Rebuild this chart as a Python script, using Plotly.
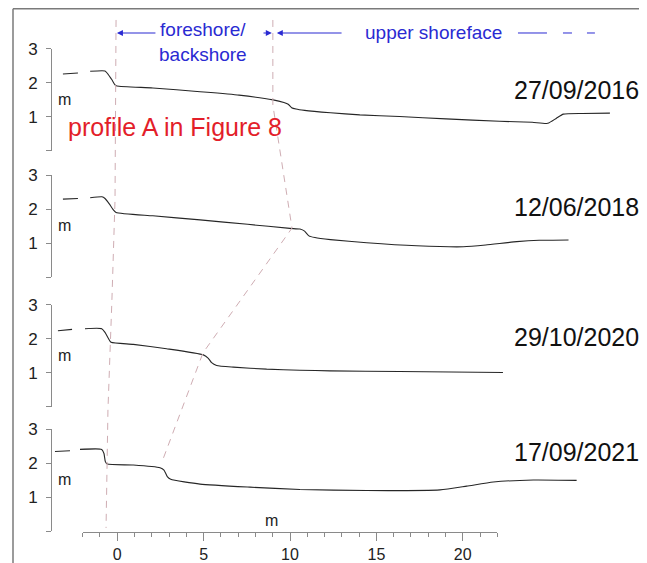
import plotly.graph_objects as go

# ---------------- data ----------------
dates = ["27/09/2016", "12/06/2018", "29/10/2020", "17/09/2021"]

p1_x = [-1.63, -0.77, -0.6, -0.37, -0.19, -0.08, 2.0, 4.74, 7.0, 8.97, 9.6, 9.85, 10.05, 10.3, 10.8, 12.3, 14.0, 16.3, 19.0, 22.1, 24.0, 24.9, 25.4, 25.8, 26.9, 28.5]
p1_z = [2.34, 2.35, 2.26, 2.09, 1.94, 1.91, 1.85, 1.74, 1.64, 1.50, 1.42, 1.37, 1.27, 1.23, 1.19, 1.12, 1.06, 1.01, 0.94, 0.87, 0.84, 0.81, 0.96, 1.08, 1.10, 1.11]

p2_x = [-1.63, -0.95, -0.77, -0.48, -0.31, -0.13, 2.0, 4.74, 7.5, 9.95, 10.53, 10.8, 11.05, 11.4, 12.3, 14.4, 17.3, 20.0, 21.3, 23.1, 24.4, 26.1]
p2_z = [2.33, 2.36, 2.31, 2.12, 1.99, 1.90, 1.80, 1.68, 1.55, 1.43, 1.41, 1.35, 1.21, 1.16, 1.10, 1.01, 0.92, 0.89, 0.94, 1.04, 1.08, 1.09]

p3_x = [-1.93, -0.96, -0.77, -0.58, -0.42, 0.87, 2.8, 4.93, 5.22, 5.41, 5.7, 6.67, 8.6, 10.53, 12.27, 16.3, 22.3]
p3_z = [2.30, 2.30, 2.19, 2.02, 1.90, 1.84, 1.71, 1.53, 1.43, 1.30, 1.22, 1.17, 1.11, 1.08, 1.06, 1.04, 1.01]

p4_x = [-2.22, -0.96, -0.83, -0.75, -0.64, 0.87, 2.42, 2.65, 2.84, 3.04, 4.74, 7.63, 10.53, 14.4, 18.65, 20.2, 21.74, 24.06, 26.57]
p4_z = [2.40, 2.40, 2.28, 2.04, 1.97, 1.94, 1.86, 1.79, 1.60, 1.52, 1.38, 1.29, 1.22, 1.19, 1.21, 1.32, 1.44, 1.50, 1.49]

# landward (extrapolated) dash of each profile
d1_x, d1_z = [-3.21, -2.34], [2.26, 2.29]
d2_x, d2_z = [-3.21, -2.34], [2.29, 2.31]
d3_x, d3_z = [-3.50, -2.68], [2.24, 2.28]
d4_x, d4_z = [-3.67, -2.80], [2.34, 2.36]

profiles_x = [p1_x, p2_x, p3_x, p4_x]
profiles_z = [p1_z, p2_z, p3_z, p4_z]
dashes_x = [d1_x, d2_x, d3_x, d4_x]
dashes_z = [d1_z, d2_z, d3_z, d4_z]

# vertical offset of each panel in a stacked coordinate (m)
panel_offset = [11.18, 7.47, 3.65, 0.0]

# zone boundaries (x in m, stacked elevation)
left_bx = [-0.13, -0.19, -0.37, -0.60, -0.71]
left_by = [15.03, 9.74, 6.79, 3.56, 0.09]
right_bx = [8.96, 8.96, 10.07, 4.91, 2.53]
right_by = [15.03, 12.53, 8.91, 5.24, 2.03]

x_ticks_range = [-2, 22]
y_tickvals = [0, 1, 2, 3]
y_ticktext = ["", "1", "2", "3"]

# ---------------- layout helpers ----------------
# page body has an 8px margin: figure drawn at (8, 8) in the window
OFF = 8
W, H = 647 - OFF, 563 - OFF
FONT = "Liberation Sans, Arial, sans-serif"
STACK_RANGE = [-0.941, 15.382]
XFULL_RANGE = [-6.394, 30.65]
XDATA_RANGE = [-3.843, 30.65]


def sx(px):
    return (px - OFF) / W


def sy(pyy):
    return 1 - (pyy - OFF) / H


def py(s):
    return (s - STACK_RANGE[0]) / (STACK_RANGE[1] - STACK_RANGE[0])


fig = go.Figure()

ax_color = "#8a8a8a"
line_color = "#262626"
bnd_color = "#cfadb3"
blue = "#2a2ad2"

for i in range(4):
    yname = "y" if i == 0 else f"y{i+1}"
    fig.add_trace(go.Scatter(x=profiles_x[i], y=profiles_z[i], xaxis="x", yaxis=yname,
                             mode="lines",
                             line=dict(color=line_color, width=1.1, shape="spline", smoothing=0.5),
                             hoverinfo="skip", showlegend=False))
    fig.add_trace(go.Scatter(x=dashes_x[i], y=dashes_z[i], xaxis="x", yaxis=yname,
                             mode="lines", line=dict(color=line_color, width=1.1),
                             hoverinfo="skip", showlegend=False))

# boundaries on overlay axes
for bx, by in [(left_bx, left_by), (right_bx, right_by)]:
    fig.add_trace(go.Scatter(x=bx, y=by, xaxis="x6", yaxis="y6", mode="lines",
                             line=dict(color=bnd_color, width=1, dash="7px,6px"),
                             hoverinfo="skip", showlegend=False))

header_y = 14.647
fig.add_trace(go.Scatter(x=[23.17, 27.63], y=[header_y, header_y], xaxis="x6", yaxis="y6",
                         mode="lines",
                         line=dict(color=blue, width=1, dash="29px,16px,9px,15px,8px,300px"),
                         hoverinfo="skip", showlegend=False))

layout = dict(
    template="none",
    width=W, height=H,
    margin=dict(l=0, r=0, t=0, b=0, pad=0),
    paper_bgcolor="white", plot_bgcolor="rgba(0,0,0,0)",
    font=dict(family=FONT, color="#222"),
    showlegend=False,
    xaxis=dict(domain=[sx(52), 1], range=XDATA_RANGE, showline=False, showgrid=False,
               zeroline=False, showticklabels=False, ticks="", anchor="free", position=0,
               automargin=False),
    xaxis5=dict(domain=[sx(82.7), sx(497.3)], range=x_ticks_range, anchor="free",
                position=sy(532), showline=True, linecolor=ax_color, linewidth=1,
                ticks="outside", ticklen=8, tickcolor=ax_color, tickwidth=1,
                tick0=0, dtick=5, showgrid=False, zeroline=False, automargin=False,
                tickfont=dict(size=16, color="#222", family=FONT),
                minor=dict(dtick=1, tick0=0, ticks="outside", ticklen=4, tickcolor=ax_color,
                           showgrid=False)),
    xaxis6=dict(domain=[0, 1], range=XFULL_RANGE, visible=False, anchor="y6", automargin=False),
    yaxis6=dict(domain=[0, 1], range=STACK_RANGE, visible=False, anchor="x6", automargin=False),
)
for i in range(4):
    key = "yaxis" if i == 0 else f"yaxis{i+1}"
    layout[key] = dict(domain=[py(panel_offset[i]), py(panel_offset[i] + 3)], range=[0, 3],
                       anchor="x", tickvals=y_tickvals, ticktext=y_ticktext,
                       ticks="outside", ticklen=5, tickcolor=ax_color, showline=True,
                       linecolor=ax_color, linewidth=1, showgrid=False, zeroline=False,
                       ticklabelstandoff=5, automargin=False,
                       tickfont=dict(size=17, color="#222", family=FONT))
fig.update_layout(**layout)
# dummy trace so that xaxis5 is drawn
fig.add_trace(go.Scatter(x=x_ticks_range, y=[None, None], xaxis="x5", yaxis="y6",
                         mode="lines", hoverinfo="skip", showlegend=False))

ann = []
# date labels
date_y = [1.79, 2.06, 2.06, 2.32]
for i in range(4):
    yname = "y" if i == 0 else f"y{i+1}"
    ann.append(dict(text=dates[i], xref="paper", x=sx(641), xanchor="right",
                    yref=yname, y=date_y[i], yanchor="middle", showarrow=False,
                    font=dict(size=25, color="#111", family=FONT)))
    ann.append(dict(text="m", xref="paper", x=sx(56), xanchor="left",
                    yref=yname, y=1.52, yanchor="middle", showarrow=False,
                    font=dict(size=16, color="#222", family=FONT)))

ann.append(dict(text="profile A in Figure 8", xref="paper", x=sx(66), xanchor="left",
                yref="y", y=0.71, yanchor="middle", showarrow=False,
                font=dict(size=25, color="#e31e2a", family=FONT)))
ann.append(dict(text="foreshore/<br>backshore", xref="paper", x=sx(203), xanchor="center",
                yref="paper", y=sy(42), yanchor="middle", showarrow=False,
                font=dict(size=19, color=blue, family=FONT)))
ann.append(dict(text="upper shoreface", xref="paper", x=sx(433), xanchor="center",
                yref="paper", y=sy(33), yanchor="middle", showarrow=False,
                font=dict(size=19, color=blue, family=FONT)))
ann.append(dict(text="m", xref="x5", x=8.9, xanchor="center", yref="paper",
                y=sy(520), yanchor="middle", showarrow=False,
                font=dict(size=16, color="#222", family=FONT)))

# header arrows
for head, tail in [(-0.08, 2.24), (8.9, 8.33), (9.19, 13.03)]:
    ann.append(dict(text="", x=head, y=header_y, xref="x6", yref="y6",
                    ax=tail, ay=header_y, axref="x6", ayref="y6",
                    showarrow=True, arrowhead=2, arrowsize=1, arrowwidth=1.2,
                    arrowcolor=blue, standoff=0, startstandoff=0))
fig.update_layout(annotations=ann)

# frame (left and top border)
fig.update_layout(shapes=[
    dict(type="line", xref="paper", yref="paper", x0=sx(13), x1=sx(13), y0=0, y1=sy(8.7),
         line=dict(color="#7a7a7a", width=1.5)),
    dict(type="line", xref="paper", yref="paper", x0=sx(13), x1=1, y0=sy(8.7), y1=sy(8.7),
         line=dict(color="#7a7a7a", width=1.5)),
])

fig.write_html("out.html")
